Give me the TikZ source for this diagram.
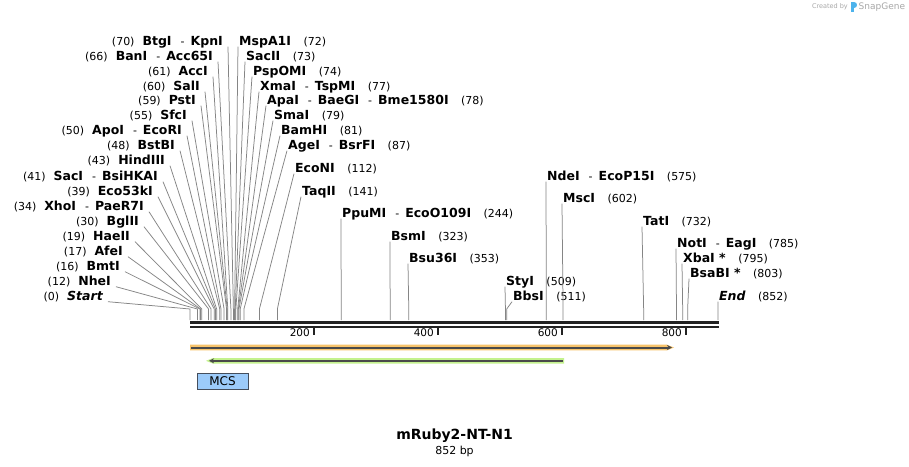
\documentclass[tikz,border=0pt]{standalone}
\usepackage{fontspec}
\setmainfont{DejaVu Sans}
\usepackage{xcolor}
\usetikzlibrary{arrows.meta}
\definecolor{cutgray}{HTML}{858585}
\definecolor{rulerdark}{HTML}{222222}
\definecolor{orangeband}{HTML}{F8C46C}
\definecolor{greenband}{HTML}{C4F28E}
\definecolor{featline}{HTML}{4A4A4A}
\definecolor{mcsblue}{HTML}{9CCBFA}
\definecolor{mcsedge}{HTML}{454E5C}
\definecolor{creditgray}{HTML}{A8A8A8}
\definecolor{snapblue}{HTML}{4DB3EC}
\newcommand{\enz}[1]{{\fontsize{12.5}{14}\selectfont\bfseries #1}}
\newcommand{\esep}{\hspace{9pt}-\hspace{6pt}}
\newcommand{\lgap}{\hspace{8pt}}
\newcommand{\rgap}{\hspace{12.5pt}}
\tikzset{
  site/.style={font=\fontsize{11}{13}\selectfont, inner ysep=0pt, text height=8pt, text depth=1pt},
  lsite/.style={site, anchor=east, inner xsep=5pt},
  rsite/.style={site, anchor=west, inner xsep=1pt},
  cutline/.style={draw=cutgray, line width=0.75pt},
  ticklabel/.style={font=\fontsize{10.5}{12}\selectfont, anchor=east, inner sep=0pt},
}
\begin{document}
\begin{tikzpicture}[x=1pt,y=-1pt]
  \useasboundingbox (0,0) rectangle (909,466);
  \fill[white] (0,0) rectangle (909,466);
  % cut positions on the map (852 bp over 528 px)
  \foreach \p in {0,12,16,17,19,30,34,39,41,43,48,50,55,59,60,61,66,70,72,73,74,77,78,79,81,87,112,141,244,323,353,509,511,575,602,732,785,795,803,852}{
    \coordinate (k\p) at ({190+\p*0.61972},309);
    \coordinate (r\p) at ({190+\p*0.61972},320);
  }
  % sites on the left
  \node[lsite] (btg) at (228,42) {(70)\lgap\enz{BtgI}\esep\enz{KpnI}};
  \node[lsite] (ban) at (218,57) {(66)\lgap\enz{BanI}\esep\enz{Acc65I}};
  \node[lsite] (acc) at (213,72) {(61)\lgap\enz{AccI}};
  \node[lsite] (sal) at (205,87) {(60)\lgap\enz{SalI}};
  \node[lsite] (pst) at (201,101) {(59)\lgap\enz{PstI}};
  \node[lsite] (sfc) at (192,116) {(55)\lgap\enz{SfcI}};
  \node[lsite] (apo) at (187,131) {(50)\lgap\enz{ApoI}\esep\enz{EcoRI}};
  \node[lsite] (bstb) at (180,146) {(48)\lgap\enz{BstBI}};
  \node[lsite] (hind) at (170,161) {(43)\lgap\enz{HindIII}};
  \node[lsite] (sac) at (163,177) {(41)\lgap\enz{SacI}\esep\enz{BsiHKAI}};
  \node[lsite] (eco53) at (158,192) {(39)\lgap\enz{Eco53kI}};
  \node[lsite] (xho) at (149,207) {(34)\lgap\enz{XhoI}\esep\enz{PaeR7I}};
  \node[lsite] (bgl) at (144,222) {(30)\lgap\enz{BglII}};
  \node[lsite] (hae) at (135,237) {(19)\lgap\enz{HaeII}};
  \node[lsite] (afe) at (128,252) {(17)\lgap\enz{AfeI}};
  \node[lsite] (bmt) at (125,267) {(16)\lgap\enz{BmtI}};
  \node[lsite] (nhe) at (116,282) {(12)\lgap\enz{NheI}};
  \node[lsite] (start) at (108,297) {(0)\lgap\enz{\itshape Start}};
  % sites on the right
  \node[rsite] (msp) at (238,42) {\enz{MspA1I}\rgap(72)};
  \node[rsite] (sac2) at (245,57) {\enz{SacII}\rgap(73)};
  \node[rsite] (psp) at (252,72) {\enz{PspOMI}\rgap(74)};
  \node[rsite] (xma) at (259,87) {\enz{XmaI}\esep\enz{TspMI}\rgap(77)};
  \node[rsite] (apa) at (266,101) {\enz{ApaI}\esep\enz{BaeGI}\esep\enz{Bme1580I}\rgap(78)};
  \node[rsite] (sma) at (273,116) {\enz{SmaI}\rgap(79)};
  \node[rsite] (bam) at (280,131) {\enz{BamHI}\rgap(81)};
  \node[rsite] (age) at (287,146) {\enz{AgeI}\esep\enz{BsrFI}\rgap(87)};
  \node[rsite] (econ) at (294,169) {\enz{EcoNI}\rgap(112)};
  \node[rsite] (taq) at (301,192) {\enz{TaqII}\rgap(141)};
  \node[rsite] (ppu) at (341,214) {\enz{PpuMI}\esep\enz{EcoO109I}\rgap(244)};
  \node[rsite] (bsm) at (390,237) {\enz{BsmI}\rgap(323)};
  \node[rsite] (bsu) at (408,259) {\enz{Bsu36I}\rgap(353)};
  \node[rsite] (sty) at (505,282) {\enz{StyI}\rgap(509)};
  \node[rsite] (bbs) at (512,297) {\enz{BbsI}\rgap(511)};
  \node[rsite] (nde) at (546,177) {\enz{NdeI}\esep\enz{EcoP15I}\rgap(575)};
  \node[rsite] (msc) at (562,199) {\enz{MscI}\rgap(602)};
  \node[rsite] (tat) at (642,222) {\enz{TatI}\rgap(732)};
  \node[rsite] (not) at (676,244) {\enz{NotI}\esep\enz{EagI}\rgap(785)};
  \node[rsite] (xba) at (682,259) {\enz{XbaI *}\rgap(795)};
  \node[rsite] (bsab) at (689,274) {\enz{BsaBI *}\rgap(803)};
  \node[rsite] (send) at (718,297) {\enz{\itshape End}\rgap(852)};
  % lines down to the cuts
  \draw[cutline] (btg.south east) -- (k70) -- (r70);
  \draw[cutline] (ban.south east) -- (k66) -- (r66);
  \draw[cutline] (acc.south east) -- (k61) -- (r61);
  \draw[cutline] (sal.south east) -- (k60) -- (r60);
  \draw[cutline] (pst.south east) -- (k59) -- (r59);
  \draw[cutline] (sfc.south east) -- (k55) -- (r55);
  \draw[cutline] (apo.south east) -- (k50) -- (r50);
  \draw[cutline] (bstb.south east) -- (k48) -- (r48);
  \draw[cutline] (hind.south east) -- (k43) -- (r43);
  \draw[cutline] (sac.south east) -- (k41) -- (r41);
  \draw[cutline] (eco53.south east) -- (k39) -- (r39);
  \draw[cutline] (xho.south east) -- (k34) -- (r34);
  \draw[cutline] (bgl.south east) -- (k30) -- (r30);
  \draw[cutline] (hae.south east) -- (k19) -- (r19);
  \draw[cutline] (afe.south east) -- (k17) -- (r17);
  \draw[cutline] (bmt.south east) -- (k16) -- (r16);
  \draw[cutline] (nhe.south east) -- (k12) -- (r12);
  \draw[cutline] (start.south east) -- (k0) -- (r0);
  \draw[cutline] (msp.south west) -- (k72) -- (r72);
  \draw[cutline] (sac2.south west) -- (k73) -- (r73);
  \draw[cutline] (psp.south west) -- (k74) -- (r74);
  \draw[cutline] (xma.south west) -- (k77) -- (r77);
  \draw[cutline] (apa.south west) -- (k78) -- (r78);
  \draw[cutline] (sma.south west) -- (k79) -- (r79);
  \draw[cutline] (bam.south west) -- (k81) -- (r81);
  \draw[cutline] (age.south west) -- (k87) -- (r87);
  \draw[cutline] (econ.south west) -- (k112) -- (r112);
  \draw[cutline] (taq.south west) -- (k141) -- (r141);
  \draw[cutline] (ppu.south west) -- (k244) -- (r244);
  \draw[cutline] (bsm.south west) -- (k323) -- (r323);
  \draw[cutline] (bsu.south west) -- (k353) -- (r353);
  \draw[cutline] (sty.south west) -- (k509) -- (r509);
  \draw[cutline] (bbs.south west) -- (k511) -- (r511);
  \draw[cutline] (nde.south west) -- (k575) -- (r575);
  \draw[cutline] (msc.south west) -- (k602) -- (r602);
  \draw[cutline] (tat.south west) -- (k732) -- (r732);
  \draw[cutline] (not.south west) -- (k785) -- (r785);
  \draw[cutline] (xba.south west) -- (k795) -- (r795);
  \draw[cutline] (bsab.south west) -- (k803) -- (r803);
  \draw[cutline] (send.south west) -- (k852) -- (r852);
  % the double line of the map and its ticks
  \draw[rulerdark, line width=3pt] (190,322.5) -- (718.5,322.5);
  \draw[rulerdark, line width=2.5pt] (190,327) -- (718.5,327);
  \draw[rulerdark, line width=2pt] (313.9,327) -- (313.9,335);
  \draw[rulerdark, line width=2pt] (437.9,327) -- (437.9,335);
  \draw[rulerdark, line width=2pt] (561.8,327) -- (561.8,335);
  \draw[rulerdark, line width=2pt] (685.8,327) -- (685.8,335);
  \node[ticklabel] (t200) at (310,333) {200};
  \node[ticklabel] (t400) at (434,333) {400};
  \node[ticklabel] (t600) at (558,333) {600};
  \node[ticklabel] (t800) at (682,333) {800};
  % features
  \fill[orangeband] (190,344.7) -- (667,344.7) -- (674,347.5) -- (667,350.3) -- (190,350.3) -- cycle;
  \draw[featline, line width=2pt, -{Stealth[length=5pt,width=5pt]}] (191,347.5) -- (672,347.5);
  \fill[greenband] (564,358) -- (213,358) -- (206,360.8) -- (213,363.6) -- (564,363.6) -- cycle;
  \draw[featline, line width=2pt, -{Stealth[length=5pt,width=5pt]}] (563,360.8) -- (209,360.8);
  \node[draw=mcsedge, fill=mcsblue, minimum width=50.5pt, minimum height=16.5pt, inner sep=0pt,
        font=\fontsize{12}{14}\selectfont] (mcs) at (222.5,381.3) {MCS};
  % name and length
  \node[font=\fontsize{14}{16}\selectfont\bfseries] (title) at (454.5,436) {mRuby2-NT-N1};
  \node[font=\fontsize{11}{13}\selectfont] (len) at (454.5,451) {852 bp};
  % credit
  \node[anchor=east, inner sep=0pt, text=creditgray, font=\fontsize{6.5}{8}\selectfont] (created) at (848,7) {Created by};
  \fill[snapblue] (851,2) rectangle (853.5,12);
  \fill[snapblue] (853.5,2) .. controls (858,2) and (858,8) .. (853.5,8) -- cycle;
  \node[anchor=west, inner sep=0pt, text=creditgray, font=\fontsize{9}{11}\selectfont] (snap) at (858.5,7) {SnapGene};
\end{tikzpicture}
\end{document}
